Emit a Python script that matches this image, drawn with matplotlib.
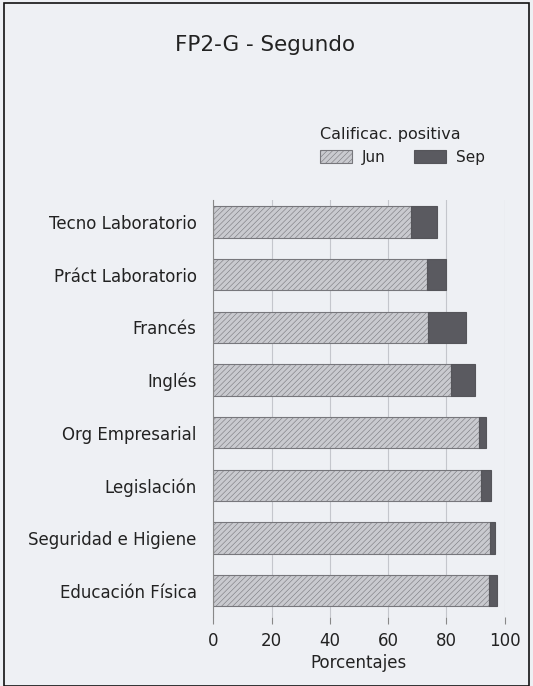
import matplotlib.pyplot as plt
from matplotlib.patches import Rectangle

asignaturas = ["Tecno Laboratorio", "Práct Laboratorio", "Francés", "Inglés",
               "Org Empresarial", "Legislación", "Seguridad e Higiene", "Educación Física"]
junio = [68.0, 73.3, 73.8, 81.5, 91.1, 92.0, 95.0, 94.7]
septiembre = [8.6, 6.4, 12.8, 8.3, 2.4, 3.3, 1.6, 2.5]
ticks_x = [0, 20, 40, 60, 80, 100]

fondo = '#eef0f4'
plt.rcParams['font.family'] = ['DejaVu Sans']
plt.rcParams['hatch.color'] = '#9a9aa0'
plt.rcParams['hatch.linewidth'] = 0.4

fig = plt.figure(figsize=(5.33, 6.86), dpi=100, facecolor=fondo)
ax = fig.add_axes([0.400, 0.1006, 0.547, 0.608], facecolor=fondo)

pos = list(range(len(asignaturas)))[::-1]
ax.barh(pos, junio, height=0.6, color='#c9cacf', edgecolor='#77777c',
        linewidth=0.8, hatch='//////', label='Jun')
ax.barh(pos, septiembre, left=junio, height=0.6, color='#5a5a60',
        edgecolor='#55555a', linewidth=0.8, label='Sep')

ax.set_xlim(0, 100)
ax.set_ylim(-0.5, 7.42)
ax.set_yticks(pos)
ax.set_yticklabels(asignaturas, fontsize=12, color='#222222')
ax.set_xticks(ticks_x)
ax.set_xticklabels([str(t) for t in ticks_x], fontsize=12, color='#222222')
ax.tick_params(axis='y', length=0, pad=12)
ax.tick_params(axis='x', length=5, color='#888888', pad=6)
ax.xaxis.grid(True, color='#c4c6cc', linewidth=0.8)
ax.set_axisbelow(True)
for lado in ['top', 'right', 'bottom']:
    ax.spines[lado].set_visible(False)
ax.spines['left'].set_color('#888888')
ax.set_xlabel("Porcentajes", fontsize=12, color='#222222', labelpad=3)

fig.text(0.498, 0.935, "FP2-G - Segundo", fontsize=15.5, ha='center', va='center', color='#222222')

leg = fig.legend(loc='upper left', bbox_to_anchor=(0.575, 0.835), ncol=2, frameon=False,
                 title="Calificac. positiva", fontsize=11, title_fontsize=11.5,
                 handlelength=2.1, handleheight=0.9, handletextpad=0.6,
                 columnspacing=1.9, alignment='left', labelcolor='#222222')
leg.get_title().set_color('#222222')

fig.patches.append(Rectangle((0.008, 0.0), 0.984, 0.995, transform=fig.transFigure,
                             fill=False, edgecolor='#111111', linewidth=1.2))

fig.savefig('out.png', dpi=100, facecolor=fondo)
